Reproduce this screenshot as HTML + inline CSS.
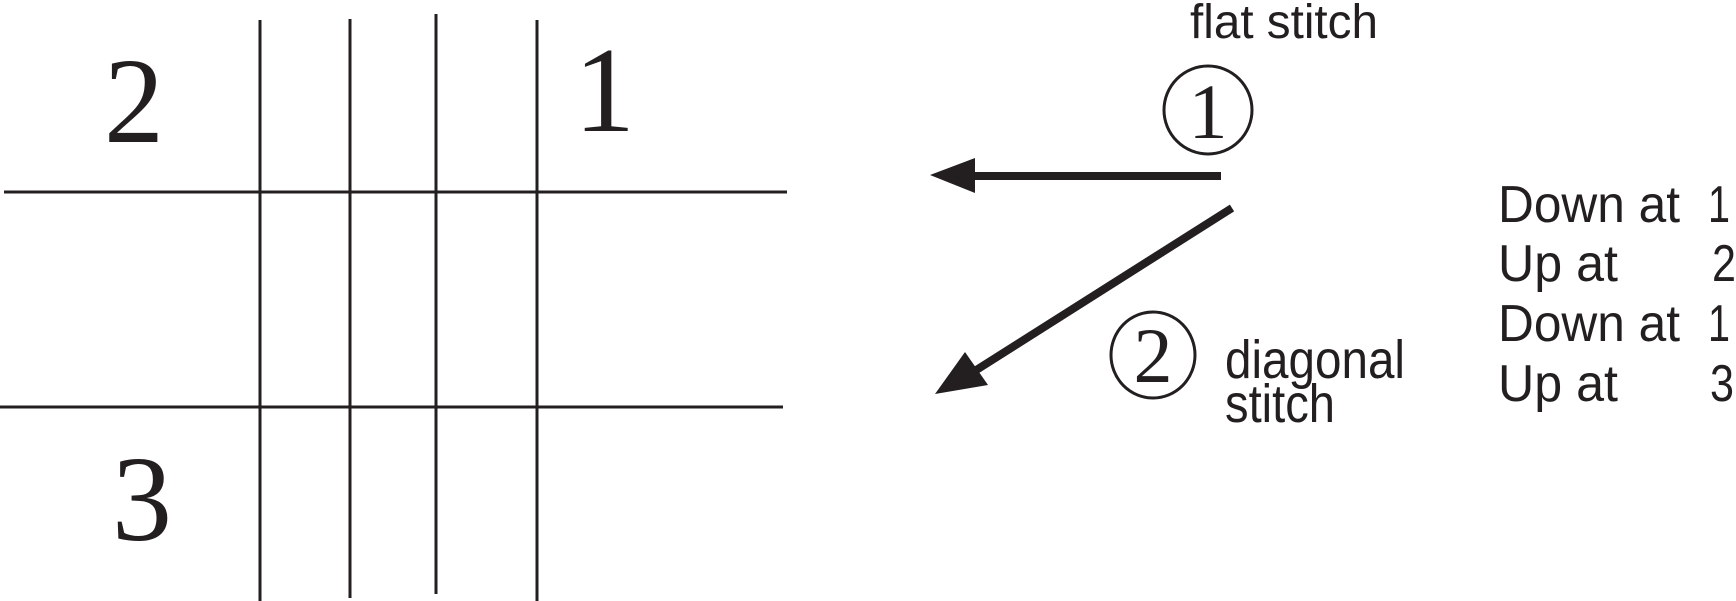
<!DOCTYPE html>
<html><head><meta charset="utf-8"><style>
html,body{margin:0;padding:0;background:#fff;}
svg{display:block;}
</style></head><body>
<svg width="1736" height="601" viewBox="0 0 1736 601" xmlns="http://www.w3.org/2000/svg">
<g stroke="#231f20" stroke-width="3" fill="none">
<line x1="260" y1="20" x2="260" y2="601"/>
<line x1="350" y1="19" x2="350" y2="598"/>
<line x1="436" y1="14" x2="436" y2="594"/>
<line x1="537" y1="20" x2="537" y2="601"/>
<line x1="4" y1="192" x2="787" y2="192"/>
<line x1="0" y1="407" x2="783" y2="407"/>
</g>
<g fill="#231f20" font-family="'Liberation Serif', serif" font-size="122">
<text x="104" y="142" textLength="60" lengthAdjust="spacingAndGlyphs">2</text>
<text x="574" y="131">1</text>
<text x="112" y="540" textLength="60" lengthAdjust="spacingAndGlyphs">3</text>
</g>
<g fill="#231f20" font-family="'Liberation Sans', sans-serif">
<text x="1190" y="38" font-size="48" textLength="188" lengthAdjust="spacingAndGlyphs">flat stitch</text>
<text x="1225" y="378" font-size="54" textLength="180" lengthAdjust="spacingAndGlyphs">diagonal</text>
<text x="1225" y="422" font-size="54" textLength="110" lengthAdjust="spacingAndGlyphs">stitch</text>
<text x="1498" y="222" font-size="52" textLength="182" lengthAdjust="spacingAndGlyphs">Down at</text>
<text x="1498" y="281" font-size="52" textLength="120" lengthAdjust="spacingAndGlyphs">Up at</text>
<text x="1498" y="341" font-size="52" textLength="182" lengthAdjust="spacingAndGlyphs">Down at</text>
<text x="1498" y="401" font-size="52" textLength="120" lengthAdjust="spacingAndGlyphs">Up at</text>
<text x="1708" y="222" font-size="52" textLength="22" lengthAdjust="spacingAndGlyphs">1</text>
<text x="1712" y="281" font-size="52" textLength="24" lengthAdjust="spacingAndGlyphs">2</text>
<text x="1708" y="341" font-size="52" textLength="22" lengthAdjust="spacingAndGlyphs">1</text>
<text x="1710" y="401" font-size="52" textLength="24" lengthAdjust="spacingAndGlyphs">3</text>
</g>
<g stroke="#231f20" stroke-width="3" fill="none">
<ellipse cx="1208" cy="110" rx="44" ry="44"/>
<ellipse cx="1153" cy="355" rx="42" ry="43"/>
</g>
<g fill="#231f20" font-family="'Liberation Serif', serif" font-size="78" text-anchor="middle">
<text x="1208" y="138">1</text>
<text x="1153" y="382">2</text>
</g>
<g stroke="#231f20" stroke-width="8" fill="none">
<line x1="1221" y1="176" x2="970" y2="176"/>
<line x1="1232" y1="208" x2="970" y2="374"/>
</g>
<g fill="#231f20">
<polygon points="930,175 975,158 975,193"/>
<polygon points="935,394 965,352 988,385"/>
</g>
</svg>
</body></html>
